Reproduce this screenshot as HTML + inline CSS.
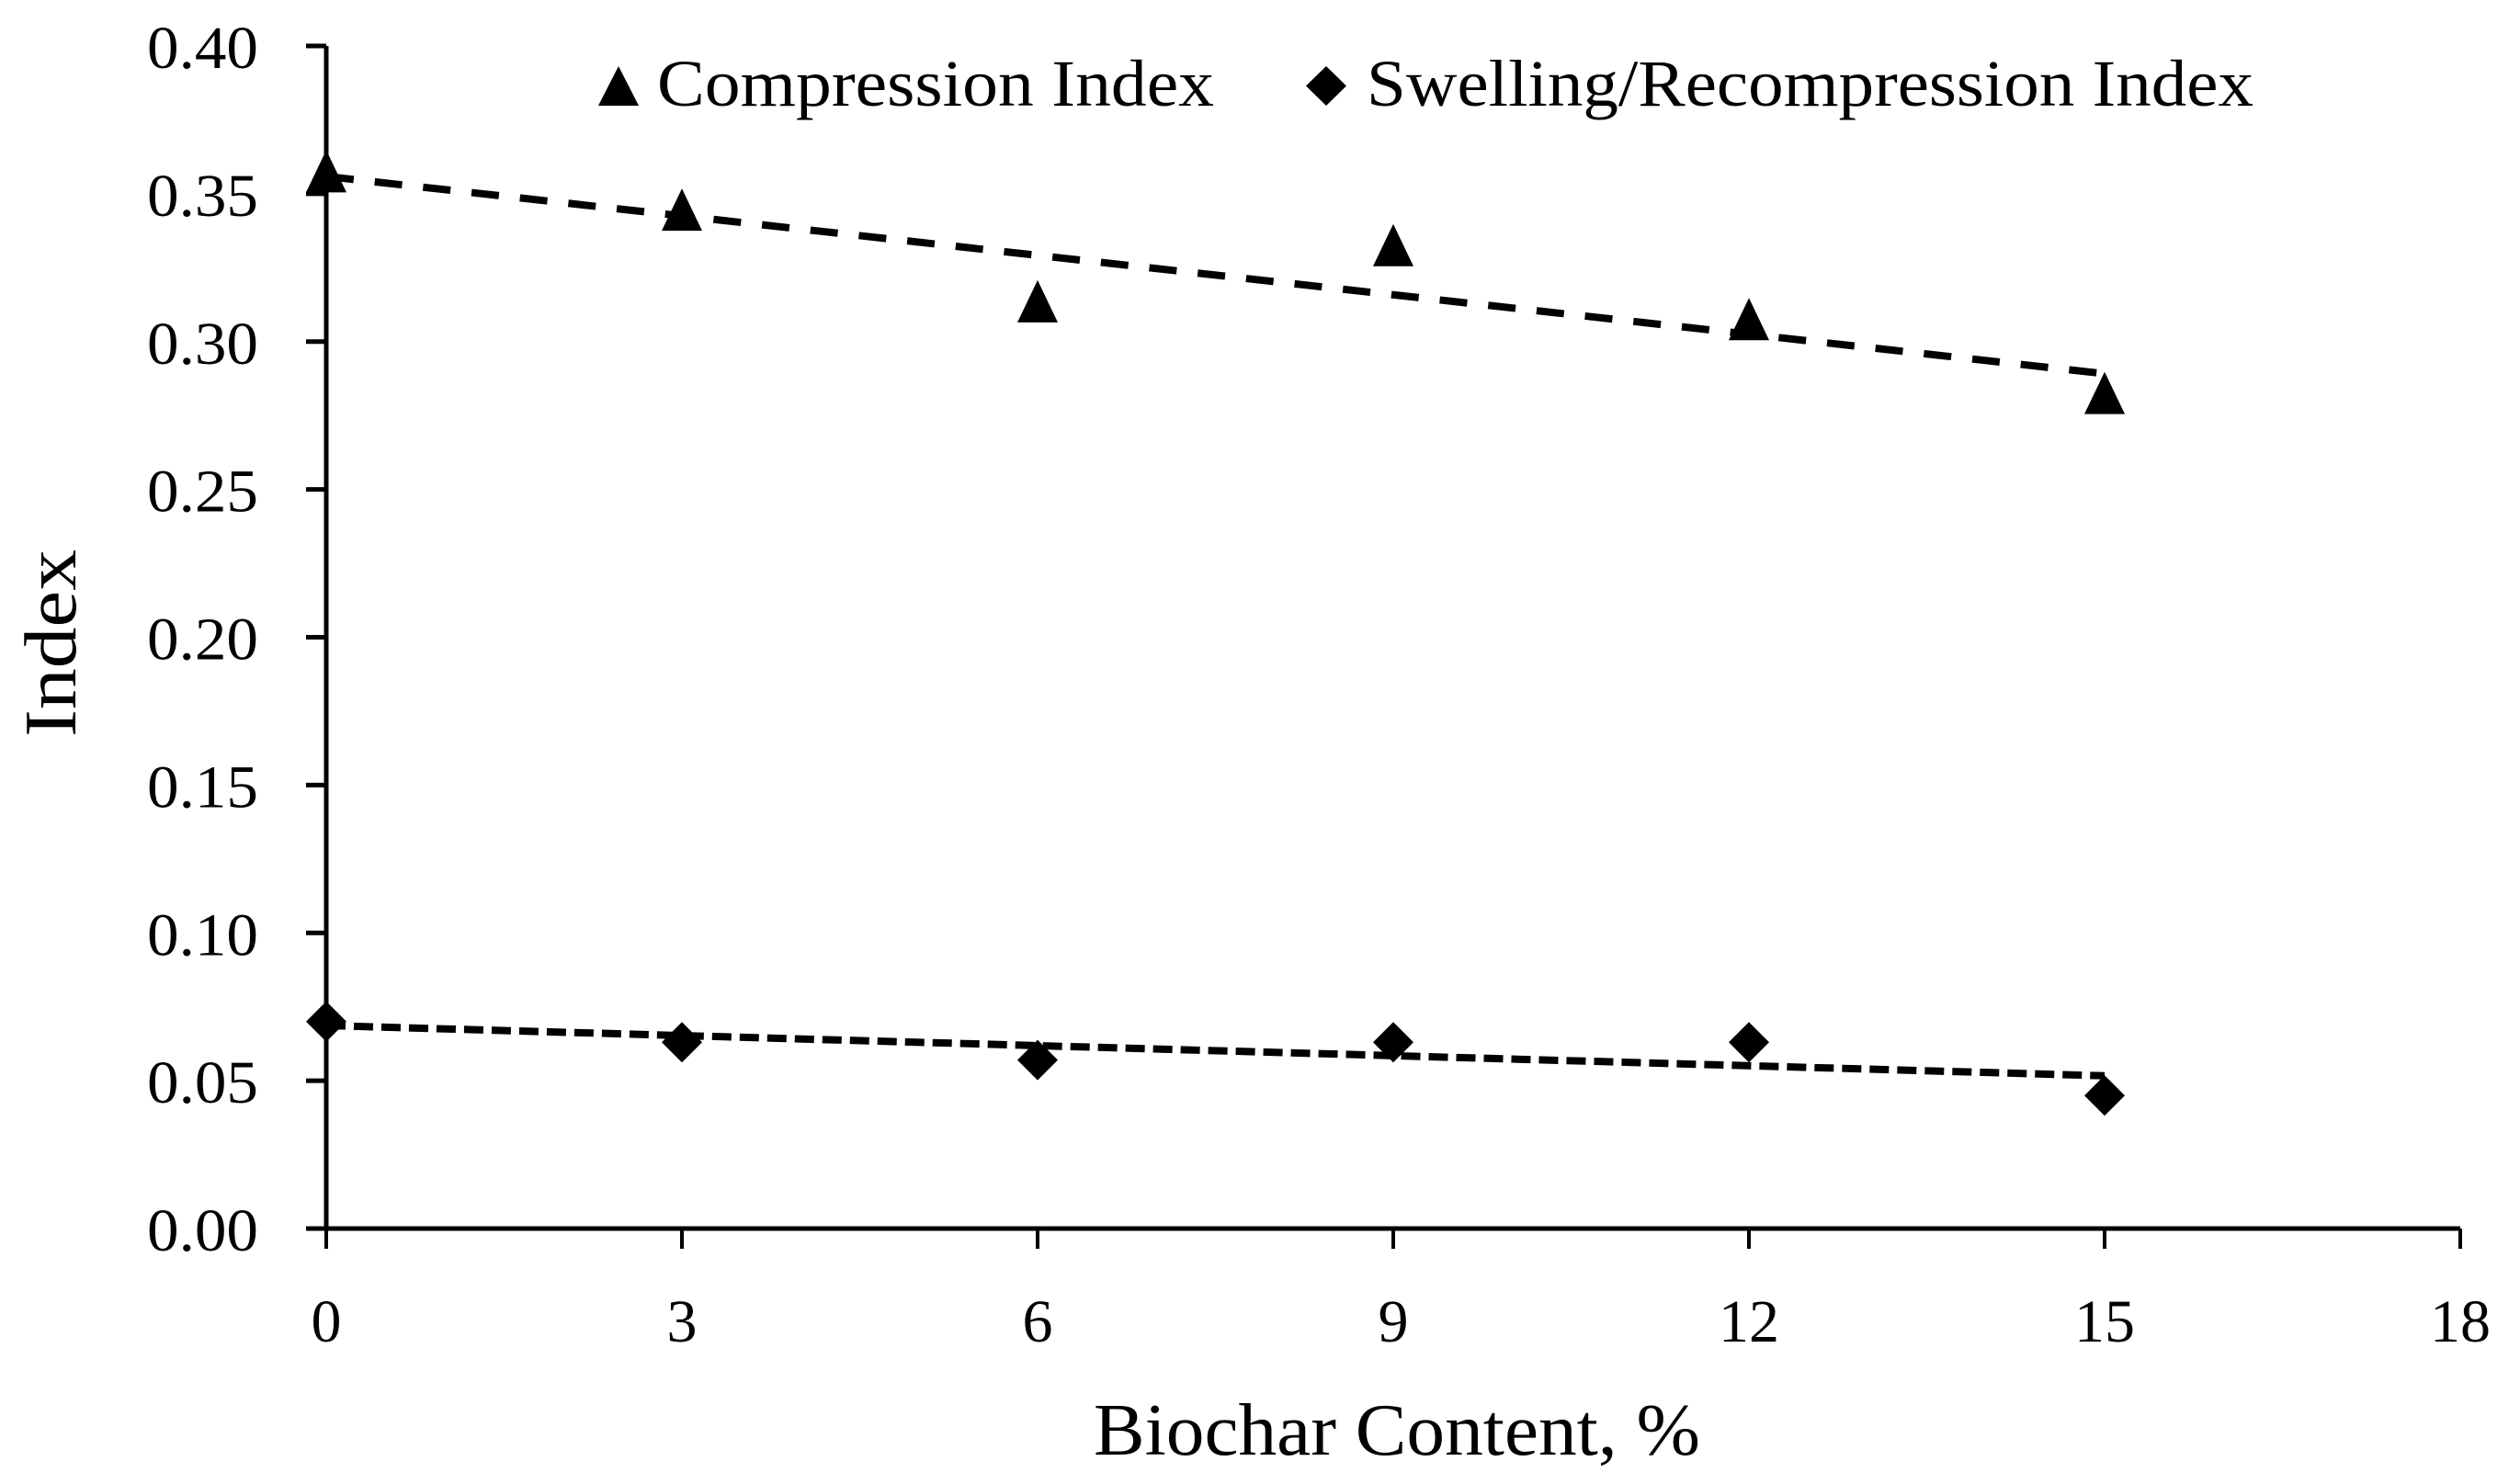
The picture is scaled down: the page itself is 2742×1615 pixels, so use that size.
<!DOCTYPE html>
<html><head><meta charset="utf-8"><style>
html,body{margin:0;padding:0;background:#fff;}
svg{display:block;font-family:"Liberation Serif",serif;}
</style></head><body>
<svg id="chart" width="2742" height="1615" viewBox="0 0 2742 1615" xmlns="http://www.w3.org/2000/svg">
<rect width="2742" height="1615" fill="#fff"/>
<g id="axes"></g><g id="trends"></g><g id="marks"></g>
<g>
<polygon points="673,72 695,115 651,115" fill="#000"/>
<text x="715" y="115" font-size="72" textLength="606" lengthAdjust="spacingAndGlyphs">Compression Index</text>
<polygon points="1443,72 1465,93.5 1443,115 1421,93.5" fill="#000"/>
<text x="1487" y="115" font-size="72" textLength="965" lengthAdjust="spacingAndGlyphs">Swelling/Recompression Index</text>
</g>
<text x="1520" y="1583" font-size="80" text-anchor="middle" textLength="660" lengthAdjust="spacingAndGlyphs">Biochar Content, %</text>
<text transform="translate(82,700) rotate(-90)" font-size="80" text-anchor="middle" textLength="204" lengthAdjust="spacingAndGlyphs">Index</text>
</svg>
<script>
const xCategories = [0, 3, 6, 9, 12, 15];
const compressionValues = [0.357, 0.344, 0.313, 0.332, 0.307, 0.282];
const swellingValues = [0.070, 0.063, 0.057, 0.063, 0.063, 0.045];
const xTickLabels = ["0", "3", "6", "9", "12", "15", "18"];
const yTickLabels = ["0.00", "0.05", "0.10", "0.15", "0.20", "0.25", "0.30", "0.35", "0.40"];

const NS = "http://www.w3.org/2000/svg";
const X0 = 355, X1 = 2677, Y0 = 1337, Y1 = 50;
const xMax = 18, yMax = 0.40;
function sx(v){ return X0 + (X1 - X0) * v / xMax; }
function sy(v){ return Y0 - (Y0 - Y1) * v / yMax; }
function mk(tag, attrs, parent){
  const e = document.createElementNS(NS, tag);
  for (const k in attrs) e.setAttribute(k, attrs[k]);
  parent.appendChild(e); return e;
}
const axes = document.getElementById('axes');
const trends = document.getElementById('trends');
const marks = document.getElementById('marks');

let yAx = mk('line', {x1:X0, y1:Y1, x2:X0, y2:Y0, stroke:'#000', 'stroke-width':5}, axes);


let xAx = mk('line', {x1:X0-20, y1:Y0, x2:X1, y2:Y0, stroke:'#000', 'stroke-width':5}, axes);



yTickLabels.forEach((lab) => {
  const v = parseFloat(lab), y = sy(v);
  const t = mk('line', {x1:X0-22, y1:y, x2:X0, y2:y, stroke:'#000', 'stroke-width':5}, axes);
  
  
  const tx = mk('text', {x:281, y:y+24, 'font-size':66, 'text-anchor':'end', textLength:121, lengthAdjust:'spacingAndGlyphs'}, axes);
  tx.textContent = lab;
  
  
});
xTickLabels.forEach((lab) => {
  const v = parseFloat(lab), x = sx(v);
  const t = mk('line', {x1:x, y1:Y0, x2:x, y2:Y0+22, stroke:'#000', 'stroke-width':4}, axes);
  
  
  const tx = mk('text', {x:x, y:1460, 'font-size':66, 'text-anchor':'middle'}, axes);
  tx.textContent = lab;
  
  
});

function fit(xs, ys){
  const n = xs.length;
  const mx = xs.reduce((a,b)=>a+b,0)/n, my = ys.reduce((a,b)=>a+b,0)/n;
  let sxy = 0, sxx = 0;
  for (let i=0;i<n;i++){ sxy += (xs[i]-mx)*(ys[i]-my); sxx += (xs[i]-mx)**2; }
  const m = sxy/sxx; return [m, my - m*mx];
}
function trend(vals, dash, name){
  const [m, b] = fit(xCategories, vals);
  const xa = xCategories[0], xb = xCategories[xCategories.length-1];
  const l = mk('line', {x1:sx(xa), y1:sy(m*xa+b), x2:sx(xb), y2:sy(m*xb+b), stroke:'#000', 'stroke-width':8, 'stroke-dasharray':dash}, trends);
  
  
}
trend(compressionValues, '30 23', 'compression-trendline');
trend(swellingValues, '21 9', 'swelling-trendline');

compressionValues.forEach((v, i) => {
  const x = sx(xCategories[i]), y = sy(v);
  const p = mk('polygon', {points:`${x},${y-25} ${x+22},${y+21} ${x-22},${y+21}`, fill:'#000'}, marks);
  
  
});
swellingValues.forEach((v, i) => {
  const x = sx(xCategories[i]), y = sy(v);
  const p = mk('polygon', {points:`${x},${y-22} ${x+22},${y} ${x},${y+22} ${x-22},${y}`, fill:'#000'}, marks);
  
  
});
</script>
</body></html>
